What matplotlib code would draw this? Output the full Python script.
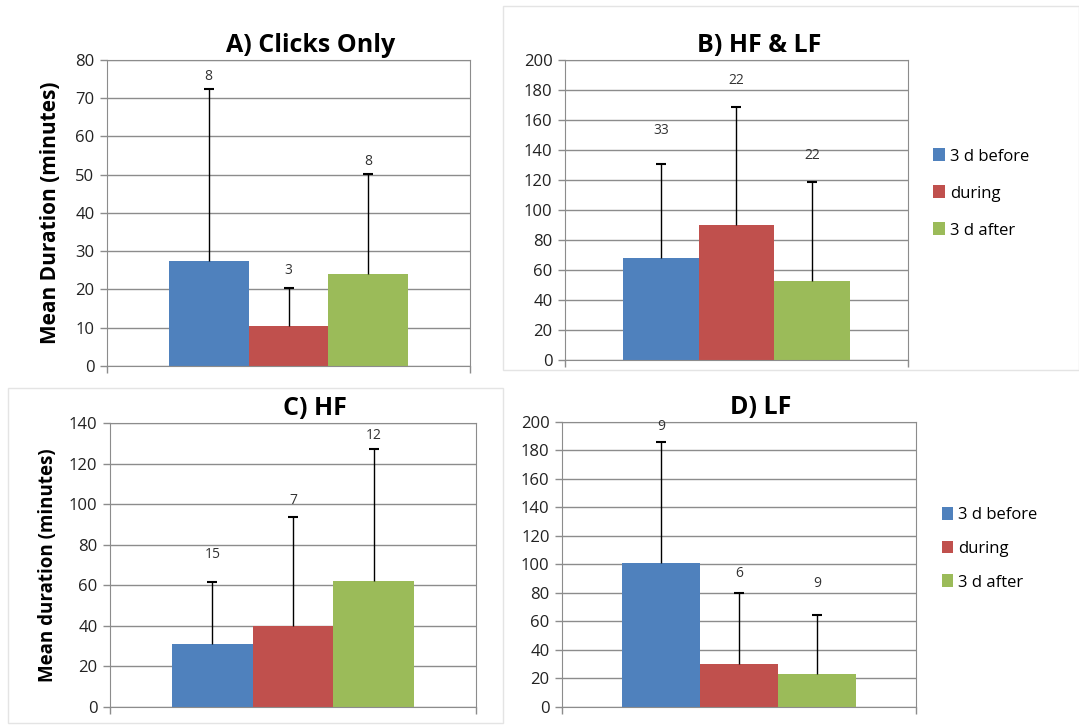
import numpy as np
import matplotlib.pyplot as plt
from matplotlib.patches import Rectangle

# Data
periods = ['3 d before', 'during', '3 d after']
colors = ['#4F81BD', '#C0504D', '#9BBB59']

titles = ['A) Clicks Only', 'B) HF & LF', 'C) HF', 'D) LF']

clicks_mean = [27.5, 10.5, 24.0]
clicks_err = [45.0, 9.8, 26.3]
clicks_n = ['8', '3', '8']

hflf_mean = [68.0, 90.0, 53.0]
hflf_err = [63.0, 79.0, 66.0]
hflf_n = ['33', '22', '22']

hf_mean = [31.0, 40.0, 62.0]
hf_err = [30.5, 53.5, 65.0]
hf_n = ['15', '7', '12']

lf_mean = [101.0, 30.0, 23.0]
lf_err = [85.0, 50.0, 41.5]
lf_n = ['9', '6', '9']

y_max = [80, 200, 140, 200]
y_step = [10, 20, 20, 20]

plt.rcParams['font.family'] = ['Open Sans', 'DejaVu Sans']

fig = plt.figure(figsize=(10.79, 7.26), dpi=100)

# faint frames of the pasted chart areas
fig.patches.append(Rectangle((503 / 1079, 1 - 370 / 726), 576 / 1079, 364 / 726,
                             transform=fig.transFigure, fill=False,
                             edgecolor='#e4e4e4', lw=1))
fig.patches.append(Rectangle((8 / 1079, 1 - 723 / 726), 495 / 1079, 335 / 726,
                             transform=fig.transFigure, fill=False,
                             edgecolor='#e4e4e4', lw=1))

boxes = [
    (0.0992, 0.4959, 0.3364, 0.4215),
    (0.5236, 0.5041, 0.3179, 0.4132),
    (0.1019, 0.0262, 0.3392, 0.3912),
    (0.5209, 0.0262, 0.3281, 0.3926),
]
means = [clicks_mean, hflf_mean, hf_mean, lf_mean]
errs = [clicks_err, hflf_err, hf_err, lf_err]
counts = [clicks_n, hflf_n, hf_n, lf_n]
# label offsets above the error bar tops, in points (as placed in the original)
label_pad = [[9, 13, 8.4], [24, 19, 18.4], [20, 12, 10], [11, 14, 23]]
title_shift = [0.06, 0.065, 0.06, 0.06]

x = np.arange(3)
for i in range(4):
    ax = fig.add_axes(boxes[i])
    ax.set_axisbelow(True)
    ax.yaxis.grid(True, color='#8c8c8c', lw=1)
    ax.bar(x, means[i], width=1.0, color=colors, label=periods, zorder=2)
    tops = np.array(means[i]) + np.array(errs[i])
    # upper error bars only
    ax.vlines(x, means[i], tops, color='black', lw=1, zorder=3)
    ax.plot(x, tops, ls='none', marker='_', ms=7, mew=1.5, color='black',
            zorder=3)
    for xi, t, n, p in zip(x, tops, counts[i], label_pad[i]):
        ax.annotate(n, (xi, t), xytext=(0, p), textcoords='offset points',
                    ha='center', va='center', fontsize=10, color='#333333')
    ax.set_xlim(-1.27, 3.27)
    ax.set_ylim(0, y_max[i])
    ax.set_yticks(np.arange(0, y_max[i] + 1, y_step[i]))
    ax.set_xticks([-1.27, 3.27])
    ax.set_xticklabels(['', ''])
    ax.tick_params(axis='y', labelsize=12, colors='#8c8c8c',
                   labelcolor='#222222', length=5, width=1, pad=4)
    ax.tick_params(axis='x', colors='#8c8c8c', length=5, width=1)
    for s in ax.spines.values():
        s.set_color('#8c8c8c')
    ax.set_title(titles[i], fontsize=18, fontweight='bold',
                 x=0.5 + title_shift[i], pad=6)
    if i == 0:
        ax.set_ylabel('Mean Duration (minutes)', fontsize=15,
                      fontweight='bold', labelpad=10)
    if i == 2:
        ax.set_ylabel('Mean duration (minutes)', fontsize=13.5,
                      fontweight='bold', labelpad=8)
    if i in (1, 3):
        ax.legend(loc='center left', bbox_to_anchor=(1.03, 0.555),
                  frameon=False, fontsize=12, handlelength=0.7,
                  handleheight=0.8, handletextpad=0.3,
                  labelspacing=1.25 if i == 1 else 1.05)

fig.savefig('out.png', dpi=100)
